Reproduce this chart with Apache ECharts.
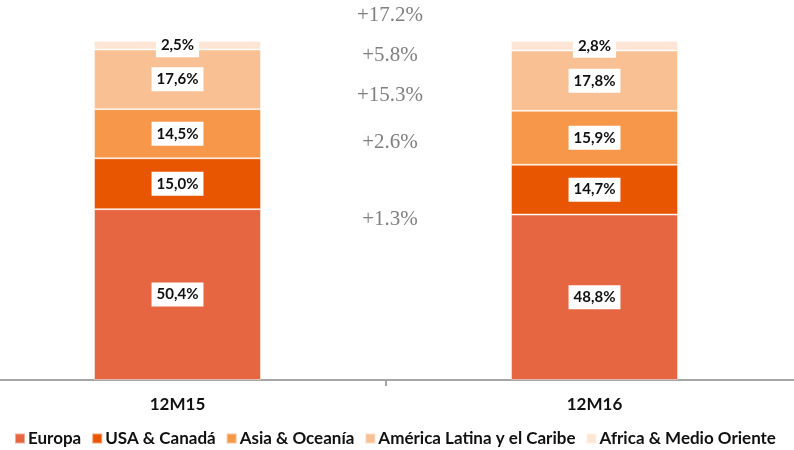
<!DOCTYPE html>
<html>
<head>
<meta charset="UTF-8">
<script src="https://cdn.jsdelivr.net/npm/echarts@6/dist/echarts.min.js"></script>
<style>
  html, body { margin: 0; padding: 0; width: 100%; height: 100%; background: #fff; }
  #main { width: 794px; height: 450px; }
</style>
</head>
<body>
<div id="main"></div>
<script>
var categories = ['12M15', '12M16'];
var regions = ['Europa', 'USA & Canadá', 'Asia & Oceanía', 'América Latina y el Caribe', 'Africa & Medio Oriente'];
var europa = [50.4, 48.8];
var usa = [15.0, 14.7];
var asia = [14.5, 15.9];
var latam = [17.6, 17.8];
var africa = [2.5, 2.8];
var growth = ['+17.2%', '+5.8%', '+15.3%', '+2.6%', '+1.3%'];
var colors = ['#E66641', '#E85602', '#F6974A', '#F9C193', '#FDE5D6'];

var font = 'Lato, "Open Sans", sans-serif';
var seriesData = [europa, usa, asia, latam, africa];

var myChart = echarts.init(document.getElementById('main'));

var series = regions.map(function (name, i) {
    return {
        name: name,
        type: 'bar',
        stack: 'total',
        barWidth: 167,
        data: seriesData[i],
        itemStyle: { color: colors[i], borderColor: 'rgba(255,255,255,0.45)', borderWidth: 1 },
        label: {
            show: true,
            position: 'inside',
            formatter: function (p) { return p.value.toFixed(1).replace('.', ',') + '%'; },
            backgroundColor: '#fff',
            color: '#111',
            fontFamily: font,
            fontWeight: 'bold',
            fontSize: 15,
            padding: [5, 5, 4, 5]
        }
    };
});

// growth notes in the middle, top to bottom
var noteY = [15, 55, 95, 142, 219];
var graphic = growth.map(function (t, i) {
    return {
        type: 'text',
        x: 390,
        y: noteY[i],
        style: {
            text: t,
            fill: '#808080',
            font: '21px "Liberation Serif", "Times New Roman", serif',
            textAlign: 'center',
            textVerticalAlign: 'middle'
        }
    };
});

var option = {
    animation: false,
    grid: { left: -31, right: -9, top: 41, bottom: 70, outerBoundsMode: 'none', containLabel: false },
    legend: {
        bottom: -2,
        left: 9,
        itemWidth: 10,
        itemHeight: 10,
        itemGap: 10,
        icon: 'rect',
        textStyle: { fontFamily: font, fontWeight: 'bold', fontSize: 17, color: '#111', padding: [0, 0, 0, -2] },
        data: regions
    },
    xAxis: {
        type: 'category',
        data: categories,
        axisLine: { lineStyle: { color: '#A6A6A6', width: 2 } },
        axisTick: { show: true, alignWithLabel: false, length: 6, lineStyle: { color: '#A6A6A6', width: 2 } },
        axisLabel: { fontFamily: font, fontWeight: 'bold', fontSize: 17, color: '#111', margin: 16 }
    },
    yAxis: {
        type: 'value',
        min: 0,
        max: 100,
        show: false,
        splitLine: { show: false }
    },
    series: series,
    graphic: graphic
};

myChart.setOption(option);
</script>
</body>
</html>
